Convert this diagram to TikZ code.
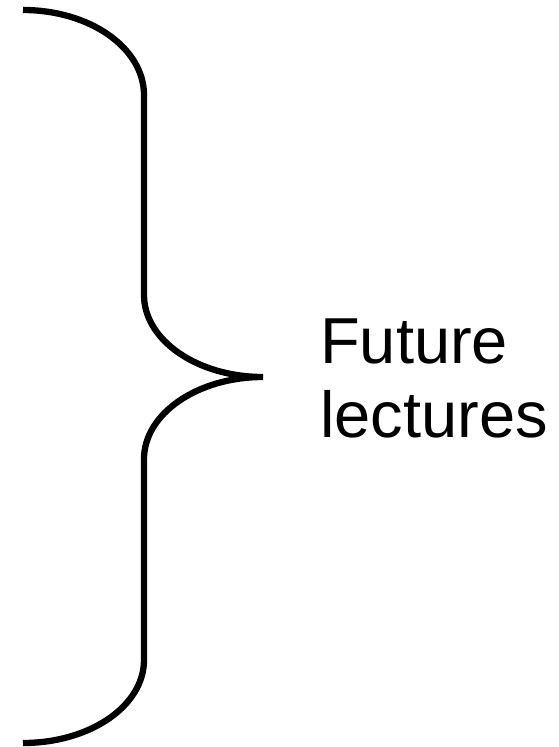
\documentclass[tikz,border=0pt]{standalone}
\usepackage{fontspec}
\setmainfont{Liberation Sans}
\begin{document}
\begin{tikzpicture}[x=1pt,y=-1pt,
  bracestyle/.style={line width=6.3pt,black},
  labelstyle/.style={inner sep=0pt,anchor=base west,font=\fontsize{65}{78}\selectfont}]
\useasboundingbox (0,0) rectangle (559,747);
\coordinate (top) at (23,10);
\coordinate (tip) at (263,377);
\coordinate (bot) at (23,743);
\draw[bracestyle] (top) .. controls (90,10) and (144,48) .. (144,95)
  -- (144,295) .. controls (144,340) and (197,377) .. (tip)
  .. controls (197,377) and (144,414) .. (144,459)
  -- (144,660) .. controls (144,706) and (90,743) .. (bot);
\node[labelstyle] (l1) at (320,363) {Future};
\node[labelstyle] (l2) at (320,437) {lectures};
\end{tikzpicture}
\end{document}
